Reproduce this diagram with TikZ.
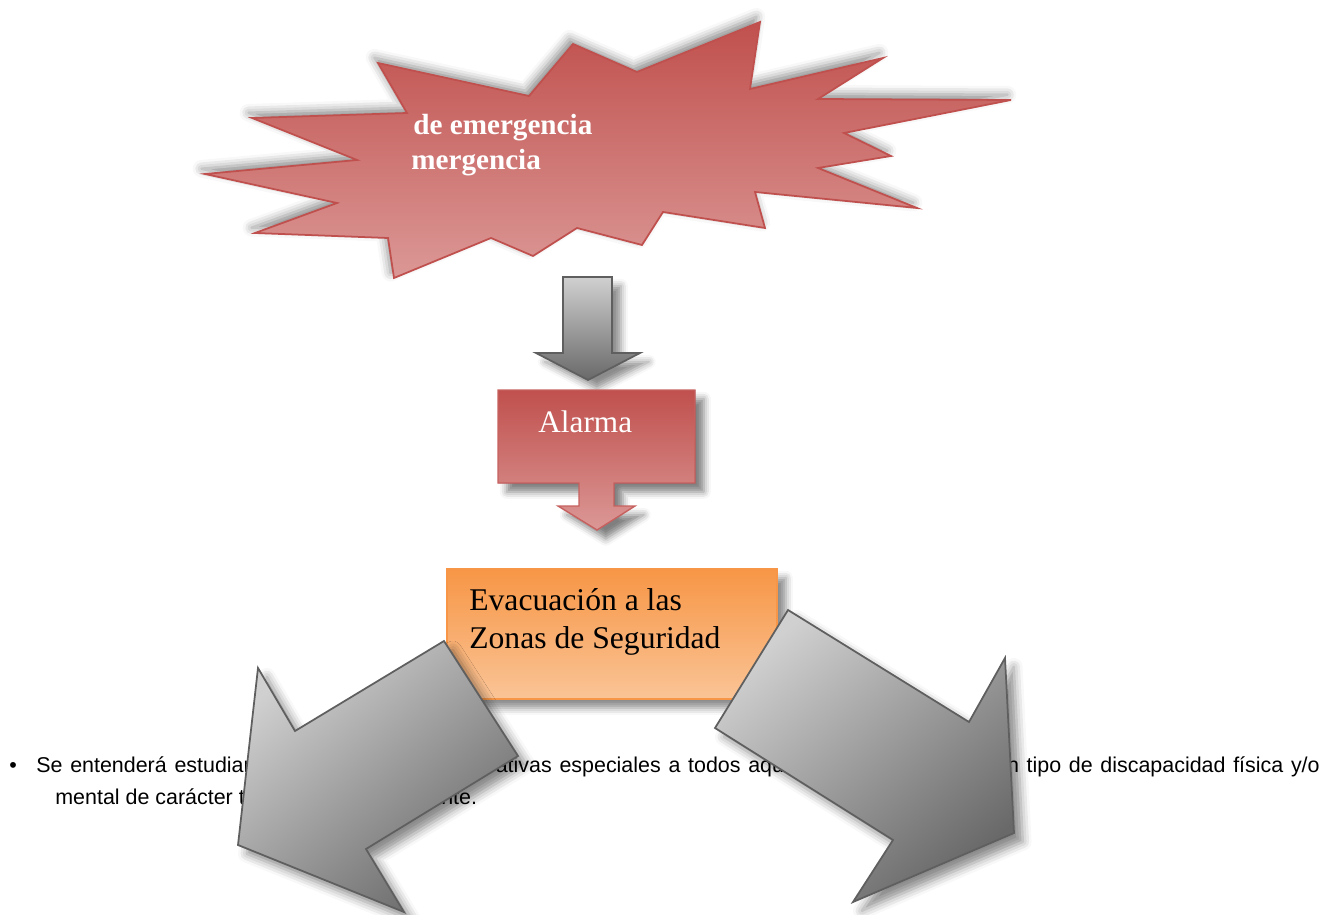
\documentclass[tikz,border=0pt]{standalone}
\usepackage{fontspec}
\setmainfont{Liberation Serif}
\newfontfamily\bodysans{Liberation Sans}
\usepackage{tikz}
\usetikzlibrary{shadows.blur,positioning}
\definecolor{emred}{RGB}{192,80,77}
\definecolor{emredlight}{RGB}{219,152,150}
\definecolor{emorange}{RGB}{247,150,70}
\definecolor{emorangelight}{RGB}{250,196,150}
\definecolor{arrlight}{RGB}{208,208,208}
\definecolor{arrdark}{RGB}{105,105,105}
\definecolor{arredge}{RGB}{95,95,95}
\newcommand{\widesp}{\spaceskip=0.36em plus 0pt\relax}

\begin{document}
\begin{tikzpicture}[x=0.02cm, y=-0.02cm,
  burst/.style={draw=emred, line width=1pt, top color=emred,
    bottom color=emredlight,
    blur shadow={shadow xshift=-2pt, shadow yshift=3pt,
      shadow blur radius=5pt, shadow opacity=45}},
  redbox/.style={draw=emred!90!white, line width=0.8pt, top color=emred,
    bottom color=emredlight,
    blur shadow={shadow xshift=5pt, shadow yshift=-5pt,
      shadow blur radius=4pt, shadow opacity=50}},
  orangebox/.style={draw=emorange, line width=0.8pt, top color=emorange,
    bottom color=emorangelight,
    blur shadow={shadow xshift=5pt, shadow yshift=-5pt,
      shadow blur radius=4pt, shadow opacity=45}},
  grayarr/.style={draw=arredge, line width=1pt, top color=arrlight,
    bottom color=arrdark, shading angle=40,
    blur shadow={shadow xshift=5pt, shadow yshift=-5pt,
      shadow blur radius=5pt, shadow opacity=45}},
  downarr/.style={draw=arredge, line width=1pt, top color=arrlight,
    bottom color=arrdark,
    blur shadow={shadow xshift=5pt, shadow yshift=-5pt,
      shadow blur radius=4pt, shadow opacity=45}},
  lbl/.style={anchor=base west, inner sep=0pt},
  para/.style={anchor=base west, inner sep=0pt,
    font=\bodysans\fontsize{12.2}{14}\selectfont}
]
  \useasboundingbox (0,0) rectangle (1324,915);

  % paragraph behind the arrows
  \node[para] (bul) at (9,772) {\textbullet};
  \node[para] (p1a) at (36,772) {\widesp Se entenderá estudiantes con necesidades};
  \node[para] (p1b) at (449,772) {\widesp educativas especiales a todos aquellos que presenten};
  \node[para, anchor=base east] (p1c) at (1320,772) {\widesp algún tipo de discapacidad física y/o};
  \node[para] (p2) at (55,804) {mental de carácter transitorio o permanente.};

  % starburst
  \filldraw[burst] (378,63) -- (407,113) -- (252,118) -- (357,160)
    -- (205,174) -- (337,203) -- (255,233) -- (388,238) -- (394,278)
    -- (491,238) -- (533,256) -- (577,228) -- (642,245) -- (663,212)
    -- (765,228) -- (755,192) -- (917,208) -- (818,168) -- (891,156)
    -- (844,133) -- (1011,100) -- (818,99) -- (883,58) -- (750,89)
    -- (760,22) -- (637,72) -- (573,44) -- (529,96) -- cycle;
  \node[lbl, text=white, font=\bfseries\fontsize{16.6}{20}\selectfont]
    (em1) at (413,135) {de emergencia};
  \node[lbl, text=white, font=\bfseries\fontsize{16.6}{20}\selectfont]
    (em2) at (411,170) {mergencia};

  % arrow down to Alarma
  \filldraw[downarr] (563,277) -- (612,277) -- (612,353) -- (640,353)
    -- (588,380) -- (536,353) -- (563,353) -- cycle;

  % Alarma callout
  \filldraw[redbox] (498,390) -- (695,390) -- (695,483) -- (614,483)
    -- (614,506) -- (635,506) -- (597,530) -- (558,506) -- (579,506)
    -- (579,483) -- (498,483) -- cycle;
  \node[lbl, text=white, font=\fontsize{17.8}{21}\selectfont]
    (alarma) at (538,432) {Alarma};

  % Evacuacion box
  \filldraw[orangebox] (447,569) rectangle (777,699);
  \node[lbl, font=\fontsize{18}{21.6}\selectfont] (ev1) at (469,610)
    {Evacuación a las};
  \node[lbl, font=\fontsize{18}{21.6}\selectfont] (ev2) at (469,648)
    {Zonas de Seguridad};

  % big arrows
  \filldraw[grayarr] (444,641) -- (518,756) -- (366,849) -- (404,912)
    -- (238,845) -- (258,668) -- (295,731) -- cycle;
  \filldraw[grayarr] (788,610) -- (969,722) -- (1005,658) -- (1014,833)
    -- (853,902) -- (893,840) -- (715,728) -- cycle;
\end{tikzpicture}
\end{document}
